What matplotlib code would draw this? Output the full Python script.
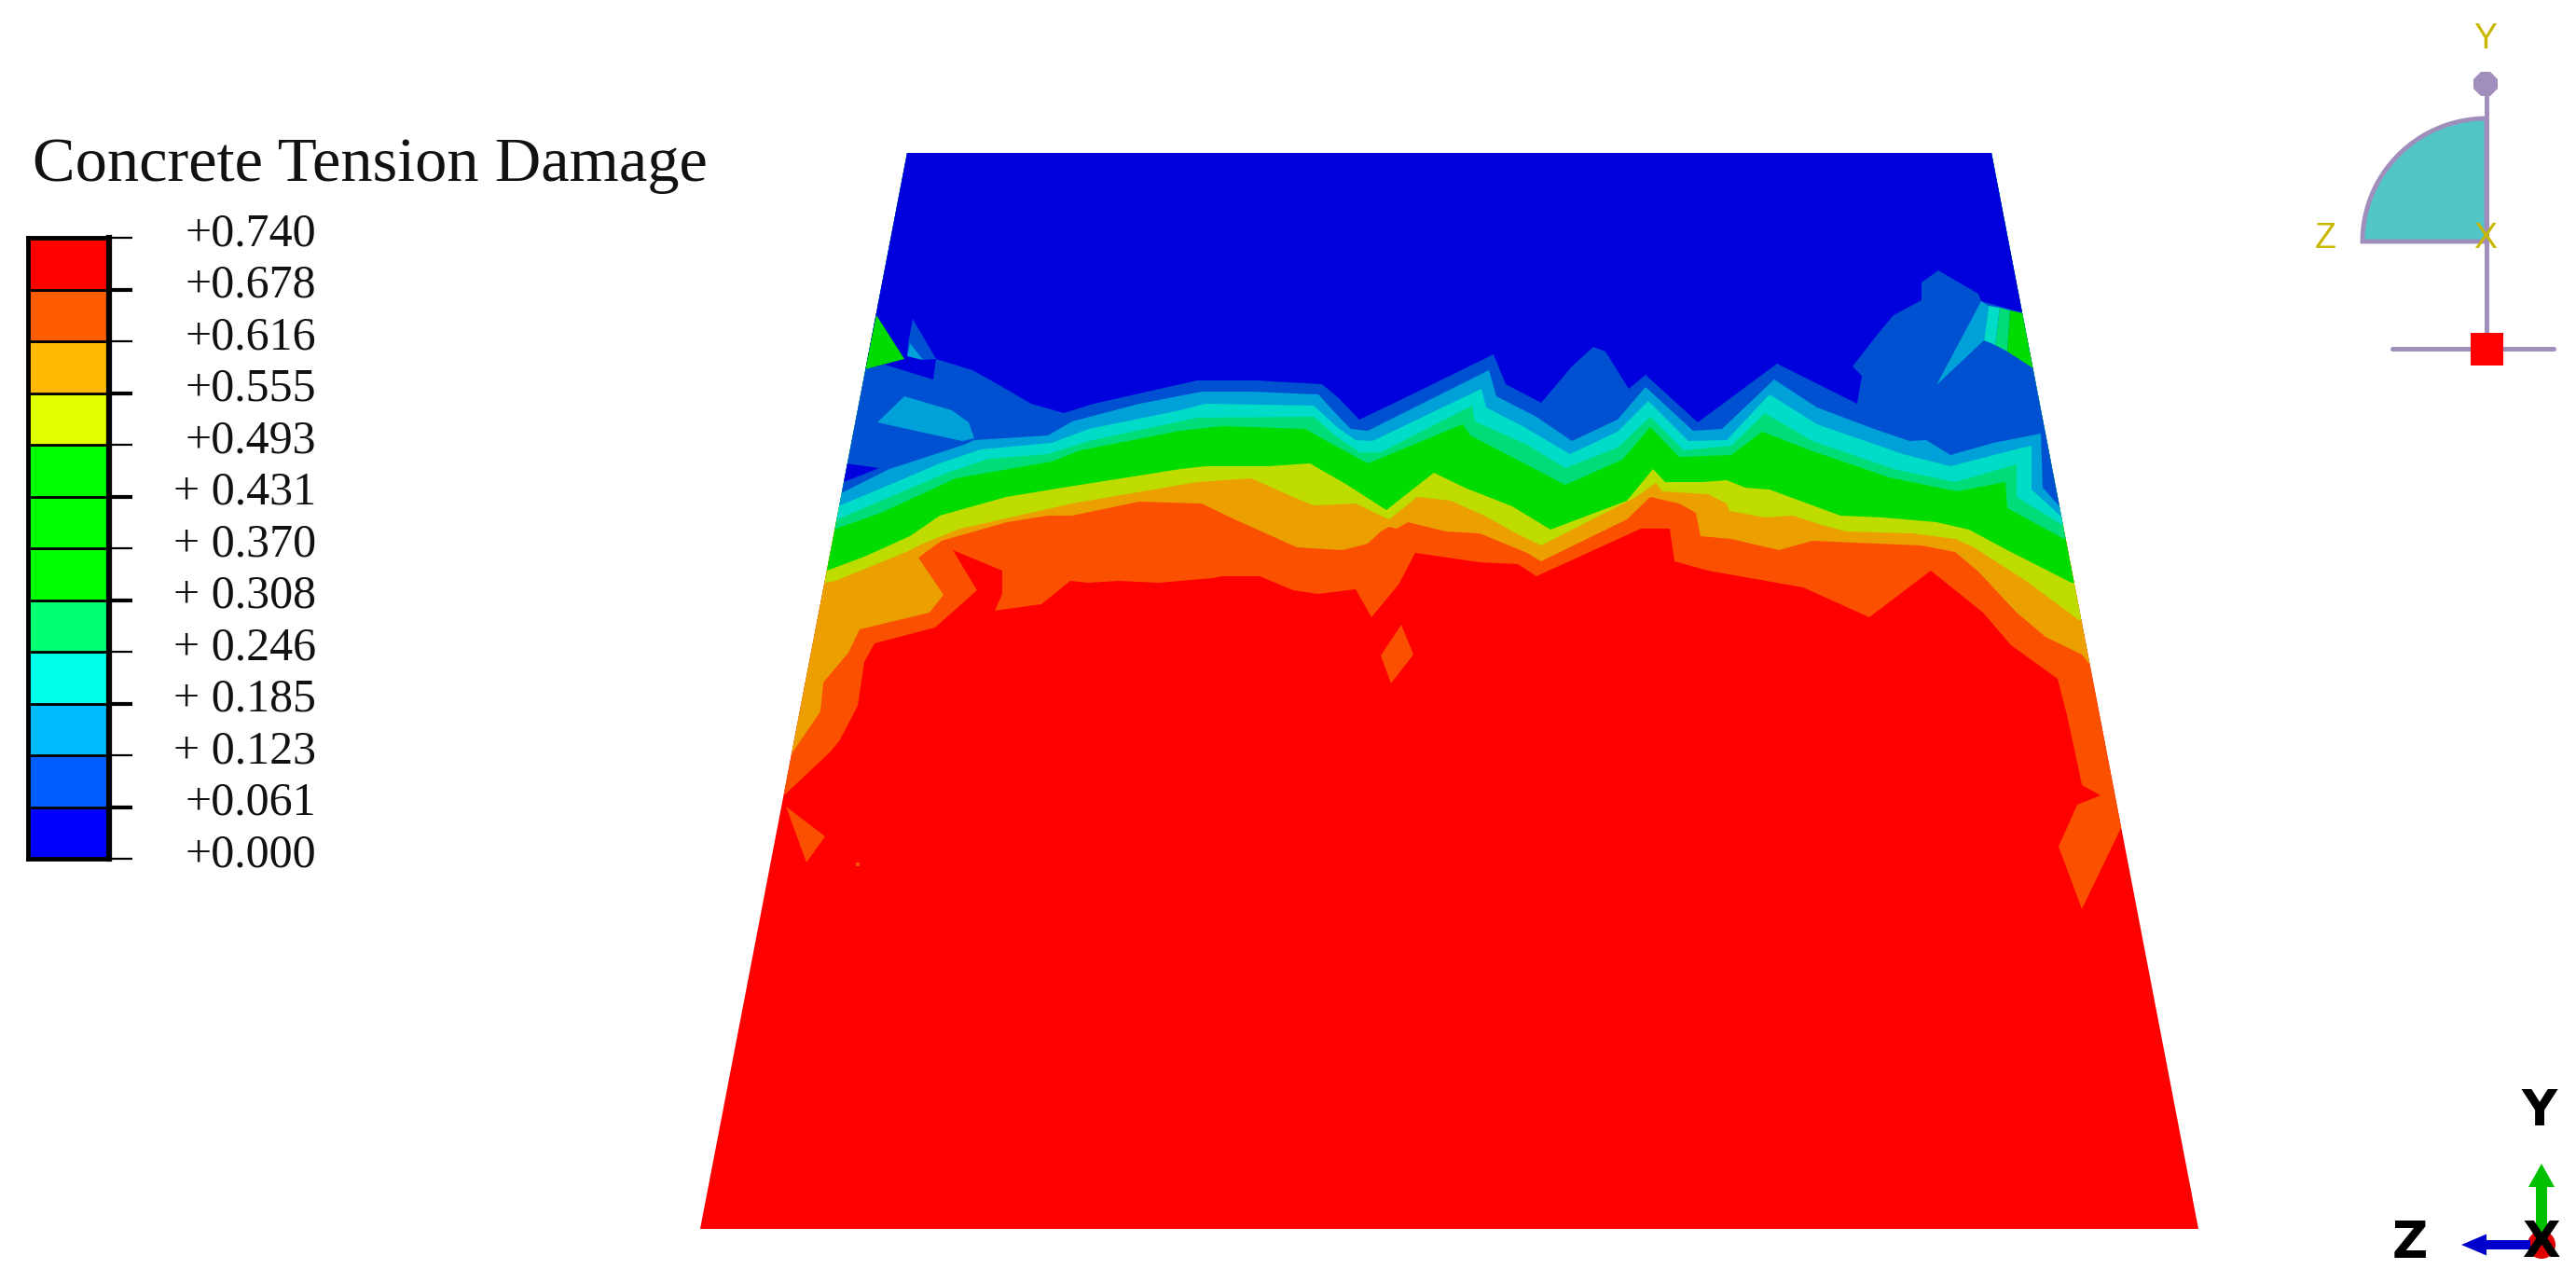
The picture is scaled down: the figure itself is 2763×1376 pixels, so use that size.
import numpy as np
import matplotlib
matplotlib.use("Agg")
import matplotlib.pyplot as plt
from matplotlib.patches import Polygon, Rectangle, Circle, FancyArrow

# === 1. Legend values ===
TITLE = "Concrete Tension Damage"
LEVEL_LABELS = ["+0.740", "+0.678", "+0.616", "+0.555", "+0.493", "+ 0.431", "+ 0.370",
                "+ 0.308", "+ 0.246", "+ 0.185", "+ 0.123", "+0.061", "+0.000"]
LEGEND_COLORS = ["#FF0000", "#FF5D00", "#FFB900", "#E2FF00", "#00FF00", "#00FF00",
                 "#00FF00", "#00FF73", "#00FFE8", "#00B9FF", "#005DFF", "#0000FF"]

# === 2. Contour lines (pixels of the full image) ===
outline = [(973, 164), (2136, 164), (2358, 1318), (751, 1318)]

line_red = [(842, 852), (890, 807), (900, 795), (920, 757), (927, 710), (938, 690), (1003, 673),
            (1048, 633), (1022, 590), (1075, 612), (1075, 637), (1067, 655), (1117, 648), (1148, 623),
            (1167, 625), (1200, 623), (1243, 625), (1300, 620), (1311, 618), (1351, 618), (1387, 633),
            (1414, 637), (1454, 632), (1471, 662), (1500, 627), (1518, 593), (1587, 603), (1628, 605),
            (1648, 618), (1760, 567), (1791, 567), (1796, 602), (1832, 612), (1934, 630), (2005, 662),
            (2071, 612), (2127, 657), (2157, 692), (2207, 728), (2217, 767), (2230, 827), (2233, 842),
            (2253, 853), (2228, 863), (2208, 908), (2233, 975), (2275, 888)]
line_orange = [(848, 810), (880, 763), (883, 732), (910, 700), (922, 675), (997, 657), (1012, 638),
               (985, 598), (1010, 580), (1080, 560), (1124, 553), (1150, 553), (1222, 538), (1289, 540),
               (1324, 557), (1391, 587), (1440, 590), (1467, 583), (1481, 570), (1490, 565), (1498, 567),
               (1510, 560), (1551, 570), (1587, 572), (1638, 593), (1653, 602), (1745, 557), (1770, 533),
               (1801, 540), (1819, 550), (1824, 575), (1857, 578), (1908, 590), (1944, 580), (1990, 582),
               (2061, 585), (2097, 592), (2122, 613), (2163, 657), (2194, 683), (2233, 702), (2241, 712)]
line_amber = [(885, 625), (896, 623), (972, 592), (990, 583), (1030, 567), (1150, 540), (1284, 517),
              (1342, 513), (1387, 533), (1409, 542), (1454, 540), (1481, 553), (1490, 557), (1520, 533),
              (1556, 537), (1592, 553), (1628, 573), (1653, 585), (1755, 533), (1776, 518), (1783, 527),
              (1832, 530), (1852, 540), (1855, 548), (1893, 555), (1923, 553), (1954, 563), (1980, 570),
              (2051, 572), (2097, 578), (2117, 587), (2173, 623), (2230, 665)]
line_lime = [(887, 612), (927, 597), (976, 575), (1008, 553), (1079, 533), (1146, 522), (1266, 503),
             (1293, 500), (1360, 500), (1405, 497), (1445, 520), (1487, 547), (1538, 507), (1571, 523),
             (1622, 543), (1663, 568), (1745, 537), (1773, 503), (1786, 517), (1827, 517), (1852, 515),
             (1872, 523), (1898, 525), (1974, 553), (2020, 555), (2077, 560), (2112, 568), (2153, 590),
             (2222, 625)]
line_green = [(894, 568), (945, 550), (1025, 513), (1128, 495), (1159, 483), (1266, 462), (1311, 457),
              (1400, 460), (1423, 473), (1467, 497), (1569, 455), (1577, 467), (1679, 520), (1740, 493),
              (1770, 458), (1801, 490), (1857, 488), (1890, 463), (1939, 482), (2026, 512), (2099, 527),
              (2151, 517), (2153, 545), (2214, 578)]
line_mint = [(896, 558), (945, 537), (1016, 507), (1061, 492), (1124, 487), (1168, 473), (1284, 448),
             (1409, 447), (1432, 467), (1458, 485), (1481, 485), (1579, 435), (1582, 452), (1638, 477),
             (1679, 502), (1735, 480), (1770, 447), (1806, 483), (1857, 478), (1893, 443), (1944, 473),
             (2031, 503), (2097, 517), (2163, 498), (2163, 533), (2212, 563)]
line_teal = [(899, 543), (954, 520), (1008, 497), (1052, 482), (1128, 475), (1168, 460), (1266, 440),
             (1293, 433), (1409, 435), (1434, 458), (1454, 472), (1472, 473), (1589, 417), (1594, 437),
             (1633, 457), (1684, 487), (1735, 463), (1768, 430), (1811, 473), (1852, 472), (1898, 423),
             (1949, 455), (2041, 487), (2092, 500), (2158, 483), (2179, 478), (2179, 525), (2212, 555)]
line_sky = [(904, 528), (954, 503), (1034, 477), (1045, 472), (1124, 467), (1150, 452), (1222, 433),
            (1289, 420), (1342, 420), (1414, 423), (1436, 447), (1449, 460), (1467, 462), (1597, 397),
            (1605, 425), (1648, 447), (1686, 473), (1735, 450), (1765, 415), (1816, 462), (1847, 460),
            (1903, 407), (1949, 437), (2010, 460), (2048, 473), (2066, 472), (2092, 488), (2138, 475),
            (2189, 465), (2191, 523), (2209, 543)]
line_blue = [(928, 396), (949, 391), (1001, 407), (1004, 385), (1043, 397), (1070, 412), (1106, 433),
             (1141, 443), (1173, 433), (1222, 422), (1284, 408), (1347, 408), (1418, 412), (1436, 427),
             (1458, 450), (1500, 430), (1602, 380), (1615, 412), (1653, 432), (1686, 393), (1709, 372),
             (1722, 377), (1747, 417), (1765, 402), (1821, 453), (1906, 390), (1992, 433), (1997, 403),
             (1987, 393), (2015, 357), (2031, 338), (2061, 322), (2061, 303), (2079, 290), (2122, 315),
             (2125, 323), (2168, 335)]

# closed islands inside the bands
island_orange_a = [(843, 865), (885, 897), (865, 925)]
island_orange_b = [(1503, 670), (1516, 702), (1492, 733), (1481, 703)]
island_orange_c = [(918, 925), (922, 925), (922, 929), (918, 929)]
island_sky = [(976, 368), (990, 386), (973, 382)]
island_sky_left = [(970, 425), (941, 453), (1032, 473), (1045, 470), (1039, 453), (1021, 440)]
island_blue_top = [(979, 342), (1004, 385), (990, 386), (973, 382), (974, 368)]
island_deep_left = [(907, 497), (943, 502), (905, 517)]
island_green_left = [(940, 338), (970, 385), (928, 396)]
fan_sky = [(2125, 323), (2077, 413), (2128, 365), (2133, 328)]
fan_teal = [(2133, 328), (2128, 365), (2140, 370), (2145, 330)]
fan_mint = [(2145, 330), (2140, 370), (2153, 377), (2156, 333)]
fan_green = [(2156, 333), (2153, 377), (2181, 395), (2175, 337)]

# === 3. Band colours (shaded, as the part is lit) ===
RED = "#FF0000"
ORANGE = "#FA5000"
AMBER = "#EBA000"
LIME = "#BEDC00"
GREEN = "#00DC00"
MINT = "#00DC78"
TEAL = "#00DCC8"
SKY = "#00A0D8"
BLUE = "#0050D2"
DEEP = "#0000DC"

W, H = 2763, 1376
fig = plt.figure(figsize=(W / 100, H / 100), dpi=100, facecolor="white")
ax = fig.add_axes([0, 0, 1, 1])
ax.set_xlim(0, W)
ax.set_ylim(H, 0)
ax.axis("off")

# === 4. Contour plot, painted from the red up to the blue ===
body = Polygon(outline, closed=True, facecolor=RED, edgecolor="none", zorder=1)
ax.add_patch(body)


def paint_above(line, color, z):
    # everything above the line, cut by the outline of the part
    pts = list(line)
    pts = pts + [(W, pts[-1][1]), (W, 0), (0, 0), (0, pts[0][1])]
    p = Polygon(pts, closed=True, facecolor=color, edgecolor="none", zorder=z)
    ax.add_patch(p)
    p.set_clip_path(body)


bands = [(line_red, ORANGE), (line_orange, AMBER), (line_amber, LIME), (line_lime, GREEN),
         (line_green, MINT), (line_mint, TEAL), (line_teal, SKY), (line_sky, BLUE), (line_blue, DEEP)]
for i, (line, color) in enumerate(bands):
    paint_above(line, color, 2 + i * 0.1)

islands = [(island_orange_a, ORANGE), (island_orange_b, ORANGE), (island_orange_c, ORANGE),
           (island_sky_left, SKY), (island_deep_left, DEEP), (island_green_left, GREEN),
           (island_blue_top, BLUE), (island_sky, SKY),
           (fan_sky, SKY), (fan_teal, TEAL), (fan_mint, MINT), (fan_green, GREEN)]
for pts, color in islands:
    p = Polygon(pts, closed=True, facecolor=color, edgecolor="none", zorder=4)
    ax.add_patch(p)
    p.set_clip_path(body)

# === 5. Legend ===
ax.text(35, 170, TITLE, family="Liberation Serif", fontsize=49.3, color="#111111", ha="left", va="center_baseline")

bar_top, bar_bottom = 255, 921
cb = fig.add_axes([30 / W, 1 - bar_bottom / H, 87 / W, (bar_bottom - bar_top) / H])
n = len(LEGEND_COLORS)
cb.barh(np.arange(n) + 0.5, np.ones(n), height=1.0, color=LEGEND_COLORS[::-1],
        edgecolor="black", linewidth=2.0)
cb.set_xlim(0, 1)
cb.set_ylim(0, n)
cb.set_xticks([])
cb.set_yticks([])
for s in cb.spines.values():
    s.set_linewidth(3.5)
cb.spines["right"].set_linewidth(4.5)

step = (bar_bottom - bar_top) / n
for i, lab in enumerate(LEVEL_LABELS):
    y = bar_top + i * step
    ax.plot([117, 142], [y, y], color="black", lw=3.0 if i % 2 else 1.6, solid_capstyle="butt", zorder=5)
    ax.text(339, y - 4, lab, family="Liberation Serif", fontsize=36, color="#111111", ha="right", va="center")

# === 6. Triad and view cube, top right ===
PURPLE = "#A08FBC"
YELLOW = "#C9B800"
theta = np.linspace(0, np.pi / 2, 60)
arc_x = 2667 - 133 * np.sin(theta)
arc_y = 259 - 132 * np.cos(theta)
ax.fill(np.r_[arc_x, 2667], np.r_[arc_y, 259], facecolor="#52C5C8", edgecolor=PURPLE, lw=3.5, zorder=3)
ax.plot([2667, 2667], [90, 360], color=PURPLE, lw=3.6, zorder=4)
ax.plot([2566, 2739], [374, 374], color=PURPLE, lw=3.6, zorder=4, solid_capstyle="round")
ax.plot([2666], [90], marker="8", ms=20, color=PURPLE, zorder=5, mew=0)
ax.add_patch(Rectangle((2650, 357), 35, 35, facecolor="#FF0000", edgecolor="none", zorder=6))
for lab, x, y in [("Y", 2666, 42), ("Z", 2494, 256), ("X", 2666, 256)]:
    ax.text(x, y, lab, family="Liberation Sans", fontsize=27, color=YELLOW, ha="center", va="center", zorder=7)

# === 7. Axis triad, bottom right ===
ax.add_patch(Circle((2726, 1335), 15, facecolor="#E00000", edgecolor="none", zorder=3))
ax.add_patch(FancyArrow(2726, 1322, 0, -74, width=12, head_width=28, head_length=25,
                        length_includes_head=True, facecolor="#00C000", edgecolor="none", zorder=4))
ax.add_patch(FancyArrow(2714, 1335, -74, 0, width=10, head_width=23, head_length=27,
                        length_includes_head=True, facecolor="#0000CC", edgecolor="none", zorder=4))
for lab, x, y in [("Y", 2724, 1192), ("Z", 2585, 1333), ("X", 2726, 1333)]:
    ax.text(x, y, lab, family="DejaVu Sans", fontweight="bold", fontsize=38, color="black",
            ha="center", va="center", zorder=6)

fig.savefig("out.png", dpi=100)
